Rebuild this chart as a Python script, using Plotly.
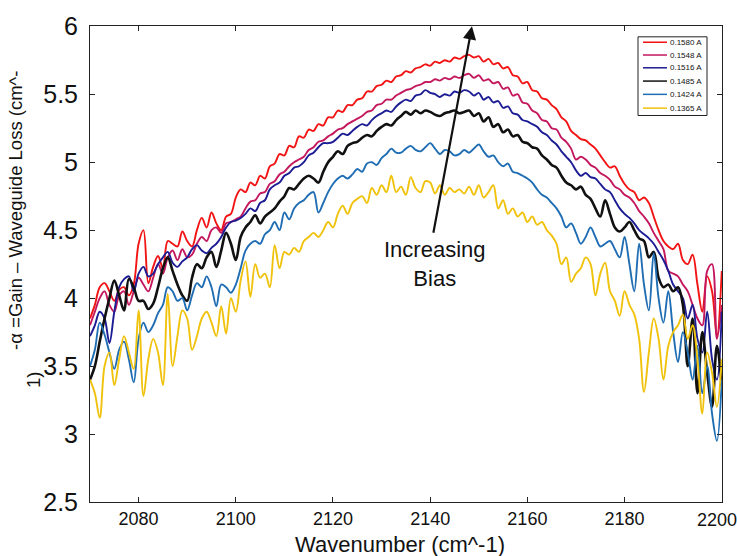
import plotly.graph_objects as go

# Modal gain spectra (-alpha = gain - waveguide loss) at six bias currents
wavenumber = list(range(2070, 2201))
bias_labels = ["0.1580 A", "0.1548 A", "0.1516 A", "0.1485 A", "0.1424 A", "0.1365 A"]
x_ticks = [2080, 2100, 2120, 2140, 2160, 2180, 2200]
y_ticks = [2.5, 3, 3.5, 4, 4.5, 5, 5.5, 6]

gain_1580 = [
    3.85, 3.95, 4.08, 4.11, 4.05, 3.98, 4.06, 4.08, 4.02, 4.10,
    4.40, 4.50, 4.11, 4.23, 4.31, 4.22, 4.42, 4.40, 4.38, 4.49,
    4.42, 4.38, 4.50, 4.59, 4.52, 4.63, 4.55, 4.50, 4.60, 4.62,
    4.74, 4.80, 4.78, 4.85, 4.83, 4.90, 4.88, 4.97, 4.99, 5.06,
    5.05, 5.12, 5.11, 5.19, 5.18, 5.24, 5.23, 5.28, 5.27, 5.33,
    5.33, 5.38, 5.37, 5.42, 5.42, 5.46, 5.47, 5.52, 5.52, 5.56,
    5.57, 5.60, 5.59, 5.63, 5.64, 5.67, 5.66, 5.69, 5.70, 5.72,
    5.71, 5.74, 5.73, 5.75, 5.74, 5.77, 5.76, 5.78, 5.79, 5.77,
    5.78, 5.74, 5.76, 5.72, 5.73, 5.69, 5.70, 5.64, 5.63, 5.58,
    5.59, 5.53, 5.52, 5.47, 5.46, 5.42, 5.39, 5.33, 5.30, 5.23,
    5.20, 5.17, 5.16, 5.13, 5.10, 5.05, 5.00, 4.96, 4.97, 4.90,
    4.84, 4.80, 4.78, 4.72, 4.74, 4.70, 4.60, 4.50, 4.42, 4.38,
    4.36, 4.40, 4.28, 4.25, 4.32, 4.10, 3.90, 4.16, 4.05, 3.72,
    4.20,
]
gain_1548 = [
    3.80, 3.90, 4.00, 4.05, 3.95, 3.90, 4.02, 4.05, 3.95, 4.05,
    4.15, 4.10, 4.05, 4.15, 4.25, 4.18, 4.30, 4.35, 4.28, 4.36,
    4.30, 4.32, 4.40, 4.45, 4.42, 4.50, 4.52, 4.48, 4.55, 4.56,
    4.58, 4.60, 4.66, 4.71, 4.72, 4.77, 4.78, 4.84, 4.86, 4.91,
    4.93, 4.97, 5.00, 5.02, 5.04, 5.09, 5.11, 5.15, 5.16, 5.19,
    5.21, 5.24, 5.25, 5.28, 5.30, 5.32, 5.34, 5.37, 5.38, 5.42,
    5.43, 5.46, 5.46, 5.49, 5.51, 5.53, 5.54, 5.56, 5.57, 5.59,
    5.59, 5.61, 5.60, 5.62, 5.61, 5.63, 5.62, 5.64, 5.65, 5.62,
    5.64, 5.60, 5.61, 5.58, 5.59, 5.54, 5.55, 5.49, 5.50, 5.44,
    5.43, 5.38, 5.36, 5.31, 5.30, 5.25, 5.24, 5.18, 5.15, 5.10,
    5.02, 5.04, 5.02, 4.98, 4.96, 4.92, 4.90, 4.87, 4.82, 4.80,
    4.76, 4.74, 4.70, 4.64, 4.60, 4.55, 4.48, 4.42, 4.36, 4.20,
    4.18, 4.16, 4.10, 4.05, 3.95, 3.85, 3.80, 4.20, 4.25, 3.70,
    3.95,
]
gain_1516 = [
    3.72, 3.80, 3.90, 3.85, 3.67, 3.90, 4.08, 4.14, 4.16, 4.05,
    4.18, 4.23, 4.16, 4.18, 4.25, 4.30, 4.34, 4.26, 4.23, 4.27,
    4.30, 4.36, 4.39, 4.35, 4.33, 4.37, 4.40, 4.45, 4.52, 4.56,
    4.57, 4.59, 4.62, 4.66, 4.64, 4.70, 4.72, 4.80, 4.83, 4.85,
    4.90, 4.92, 4.96, 4.97, 5.00, 5.05, 5.07, 5.11, 5.14, 5.14,
    5.15, 5.18, 5.21, 5.20, 5.23, 5.26, 5.28, 5.27, 5.31, 5.34,
    5.36, 5.38, 5.37, 5.41, 5.44, 5.46, 5.45, 5.49, 5.50, 5.53,
    5.51, 5.50, 5.48, 5.50, 5.49, 5.52, 5.51, 5.53, 5.52, 5.49,
    5.51, 5.46, 5.48, 5.44, 5.45, 5.40, 5.41, 5.36, 5.35, 5.31,
    5.30, 5.28, 5.26, 5.22, 5.20, 5.16, 5.13, 5.08, 5.04, 5.00,
    4.94, 4.90, 4.92, 4.89, 4.88, 4.84, 4.80, 4.78, 4.72, 4.66,
    4.62, 4.59, 4.55, 4.50, 4.47, 4.44, 4.40, 4.34, 4.28, 4.20,
    4.10, 4.05, 4.00, 3.85, 3.95, 3.70, 3.60, 3.90, 3.55, 3.40,
    3.90,
]
gain_1485 = [
    3.40, 3.50, 3.68, 3.85, 4.00, 4.13, 4.02, 3.91, 4.14, 4.08,
    3.98, 3.98, 3.92, 3.96, 4.08, 4.22, 4.30, 4.20, 4.10, 4.02,
    3.98, 4.15, 4.25, 4.22, 4.30, 4.34, 4.23, 4.35, 4.48, 4.40,
    4.28, 4.45, 4.52, 4.56, 4.61, 4.55, 4.60, 4.63, 4.66, 4.71,
    4.75, 4.81, 4.80, 4.84, 4.88, 4.90, 4.88, 4.85, 4.93, 5.00,
    5.04, 5.08, 5.06, 5.12, 5.14, 5.15, 5.18, 5.20, 5.19, 5.23,
    5.26, 5.28, 5.27, 5.31, 5.34, 5.37, 5.35, 5.38, 5.36, 5.38,
    5.37, 5.35, 5.34, 5.36, 5.37, 5.38, 5.36, 5.37, 5.38, 5.34,
    5.36, 5.30, 5.33, 5.26, 5.28, 5.22, 5.24, 5.19, 5.20, 5.15,
    5.14, 5.11, 5.10, 5.05, 5.02, 4.98, 4.96, 4.90, 4.85, 4.83,
    4.80, 4.82, 4.76, 4.73, 4.66, 4.60, 4.72, 4.62, 4.52, 4.49,
    4.52, 4.56, 4.50, 4.44, 4.42, 4.30, 4.34, 4.15, 4.08, 4.10,
    4.05, 4.08, 3.95, 3.50, 3.85, 3.30, 3.75, 3.45, 3.20, 3.65,
    3.35,
]
gain_1424 = [
    3.50, 3.62, 3.82, 3.73, 3.60, 3.48, 3.62, 3.68, 3.55, 3.38,
    3.70, 3.82, 3.75, 3.80, 3.89, 3.95, 4.08, 4.05, 3.98, 4.00,
    3.91, 4.02, 4.11, 4.08, 4.16, 4.08, 3.94, 4.10, 4.08, 4.04,
    4.10, 4.22, 4.35, 4.40, 4.42, 4.40, 4.47, 4.50, 4.56, 4.50,
    4.63, 4.58, 4.66, 4.70, 4.72, 4.76, 4.78, 4.63, 4.70, 4.78,
    4.84, 4.88, 4.90, 4.88, 4.91, 4.95, 4.93, 4.99, 5.00, 4.98,
    5.03, 5.06, 5.10, 5.07, 5.07, 5.10, 5.12, 5.09, 5.08, 5.11,
    5.14, 5.10, 5.06, 5.09, 5.08, 5.05, 5.06, 5.09, 5.07, 5.10,
    5.13, 5.08, 5.04, 5.05, 5.00, 4.97, 4.99, 4.93, 4.92, 4.90,
    4.88, 4.85, 4.80, 4.76, 4.74, 4.70, 4.66, 4.60, 4.52, 4.55,
    4.48, 4.40, 4.45, 4.52, 4.45, 4.38, 4.40, 4.42, 4.36, 4.30,
    4.45, 4.25, 4.05, 4.40, 4.10, 3.91, 4.33, 4.00, 3.82, 4.05,
    3.75, 3.53, 3.75, 3.60, 3.40, 3.65, 3.30, 3.50, 3.15, 2.95,
    3.40,
]
gain_1365 = [
    3.40, 3.30, 3.12, 3.50, 3.60, 3.36, 3.55, 3.72, 3.60, 3.48,
    3.91, 3.28, 3.55, 3.70, 3.60, 3.36, 4.03, 3.50, 3.72, 3.91,
    3.85, 3.62, 3.72, 3.85, 3.90, 3.82, 3.72, 3.94, 3.74, 4.00,
    3.90, 4.13, 4.27, 4.01, 4.25, 4.15, 4.18, 4.08, 4.39, 4.22,
    4.34, 4.32, 4.37, 4.34, 4.42, 4.45, 4.48, 4.45, 4.50, 4.56,
    4.52, 4.62, 4.68, 4.62, 4.70, 4.73, 4.75, 4.70, 4.81, 4.76,
    4.83, 4.78, 4.90, 4.78, 4.82, 4.76, 4.89, 4.81, 4.78, 4.86,
    4.85, 4.77, 4.83, 4.76, 4.81, 4.78, 4.80, 4.77, 4.82, 4.76,
    4.83, 4.74, 4.78, 4.83, 4.66, 4.72, 4.62, 4.66, 4.60, 4.63,
    4.56, 4.60, 4.54, 4.56, 4.50, 4.46, 4.40, 4.25, 4.30, 4.12,
    4.18, 4.22, 4.30, 4.25, 4.02, 4.18, 4.26, 4.05, 3.98, 3.87,
    4.05, 3.95, 3.88, 3.70, 3.31, 3.60, 3.85, 3.70, 3.40, 3.65,
    3.75, 3.80, 3.88, 3.70, 3.80, 3.55, 3.15, 3.60, 3.45, 3.20,
    3.55,
]

series = [gain_1580, gain_1548, gain_1516, gain_1485, gain_1424, gain_1365]
colors = ["#f21414", "#c4185e", "#1c1c94", "#111111", "#1f6db3", "#f0c20c"]
widths = [1.9, 1.9, 1.9, 2.6, 1.9, 1.9]

FONT = "Liberation Sans, Arial, sans-serif"
W, H = 737, 556
L, R, T, B = 90, 722, 18, 502   # plot-area edges in page pixels


def px_x(px):
    return (px - L) / (R - L)


def px_y(py):
    return (B - py) / (B - T)


fig = go.Figure()
for vals, name, col, w in zip(series, bias_labels, colors, widths):
    fig.add_trace(go.Scatter(
        x=wavenumber, y=vals, name=name, mode="lines",
        line=dict(color=col, width=w, shape="spline", smoothing=1.0),
        showlegend=False,
    ))

axis_common = dict(
    showline=True, linecolor="#222222", linewidth=1, mirror="ticks",
    ticks="inside", ticklen=5, tickcolor="#222222", tickwidth=1,
    showgrid=False, zeroline=False,
)

# the last x label sits at the page edge, so it is placed as an annotation
x_ticktext = [str(v) for v in x_ticks[:-1]] + [""]

fig.update_xaxes(range=[2070, 2200.05], tickvals=x_ticks,
                 ticktext=x_ticktext,
                 tickfont=dict(family=FONT, size=18, color="#111111"),
                 **axis_common)
fig.update_yaxes(range=[2.5, 6.002], tickvals=y_ticks,
                 ticktext=[f"{v:g}" for v in y_ticks],
                 tickfont=dict(family=FONT, size=25, color="#111111"),
                 ticklabelstandoff=6,
                 **axis_common)

annotations = [
    dict(text=str(x_ticks[-1]), xref="paper", yref="paper",
         x=px_x(717), y=px_y(520), xanchor="center", yanchor="middle",
         showarrow=False, font=dict(family=FONT, size=18, color="#111111")),
    # axis titles
    dict(text="Wavenumber (cm^-1)", xref="paper", yref="paper",
         x=px_x(400), y=px_y(545), xanchor="center", yanchor="middle",
         showarrow=False, font=dict(family=FONT, size=22, color="#111111")),
    dict(text="-\u03b1 =Gain \u2013 Waveguide Loss (cm^-",
         xref="paper", yref="paper", x=px_x(16), y=px_y(206),
         xanchor="center", yanchor="middle", textangle=-90,
         showarrow=False, font=dict(family=FONT, size=18.5, color="#111111")),
    dict(text="1)", xref="paper", yref="paper", x=px_x(33), y=px_y(378),
         xanchor="center", yanchor="middle", textangle=-90,
         showarrow=False, font=dict(family=FONT, size=18.5, color="#111111")),
    # bias arrow and its label
    dict(x=2148.6, y=6.0, ax=2140.6, ay=4.47, xref="x", yref="y",
         axref="x", ayref="y", text="", showarrow=True,
         arrowhead=2, arrowsize=1.2, arrowwidth=2.2, arrowcolor="#111111"),
    dict(text="Increasing<br>Bias", x=2140.9, y=4.25, xref="x", yref="y",
         showarrow=False, align="center",
         font=dict(family=FONT, size=22, color="#111111")),
]

# legend box drawn in page pixels
shapes = [dict(type="rect", xref="paper", yref="paper",
               x0=px_x(638), x1=px_x(707), y0=px_y(29), y1=px_y(109),
               line=dict(color="#222222", width=1), fillcolor="white")]
row_y = [34.5, 47.5, 60.5, 74, 87.5, 101.5]
for name, col, ry in zip(bias_labels, colors, row_y):
    shapes.append(dict(type="line", xref="paper", yref="paper",
                       x0=px_x(643), x1=px_x(667), y0=px_y(ry), y1=px_y(ry),
                       line=dict(color=col, width=1.5)))
    annotations.append(dict(text=name, xref="paper", yref="paper",
                            x=px_x(668), y=px_y(ry), xanchor="left",
                            yanchor="middle", showarrow=False,
                            font=dict(family=FONT, size=8, color="#111111")))

fig.update_layout(
    width=W, height=H,
    margin=dict(l=L, r=W - R, t=T, b=H - B, pad=0),
    paper_bgcolor="white", plot_bgcolor="white",
    annotations=annotations, shapes=shapes,
    showlegend=False,
)

fig.write_html("out.html")
